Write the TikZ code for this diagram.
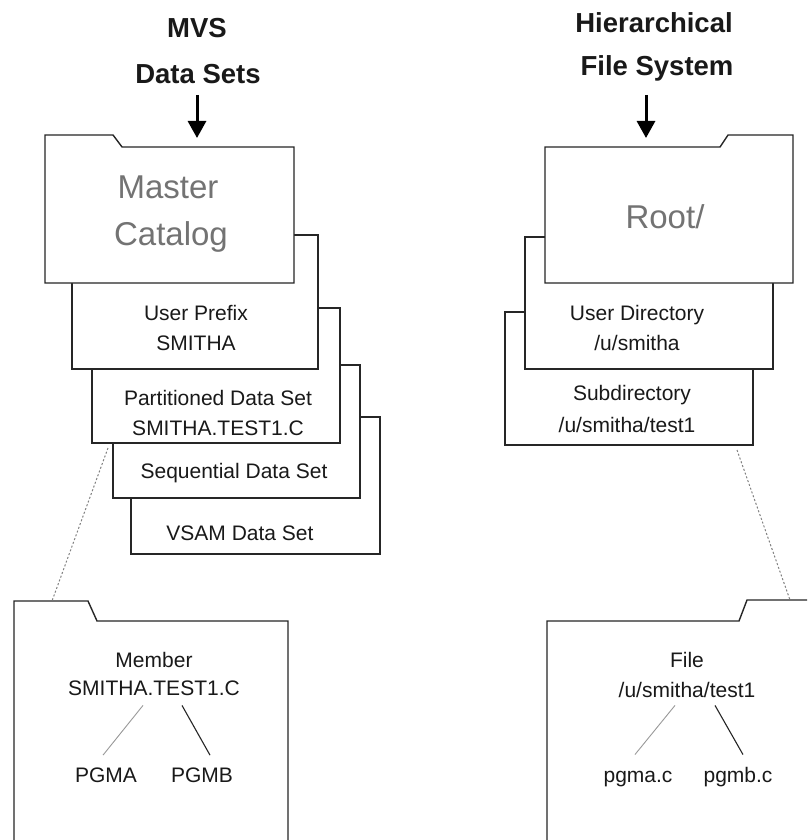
\documentclass[tikz,border=0pt]{standalone}
\usepackage{fontspec}
\setmainfont{Liberation Sans}
\usetikzlibrary{arrows.meta}
\begin{document}
\begin{tikzpicture}[x=1pt,y=-1pt,
  outl/.style={draw=black!85, line width=1.4pt, fill=white, line join=miter},
  boxst/.style={outl, rectangle, inner sep=0pt, outer sep=0pt},
  small/.style={font=\fontsize{21}{30}\selectfont, text=black!90, anchor=base, inner sep=0pt},
  head/.style={font=\fontsize{27.5}{44}\selectfont\bfseries, text=black!90, anchor=base, inner sep=0pt},
  bigt/.style={font=\fontsize{33}{47}\selectfont, text=black!55, anchor=base, inner sep=0pt},
  hdarrow/.style={draw=black, line width=3pt, -{Triangle[width=18pt,length=17pt]}},
  dotl/.style={draw=black!50, line width=1pt, dash pattern=on 2pt off 2pt},
  lightbr/.style={draw=black!40, line width=0.9pt},
  darkbr/.style={draw=black!85, line width=1.1pt}
]
\useasboundingbox (0,0) rectangle (807,840);
\clip (0,0) rectangle (807,840);
\fill[white] (0,0) rectangle (807,840);

% headers
\node[head] (hL1) at (197,38) {MVS};
\node[head] (hL2) at (198,84) {Data Sets};
\node[head] (hR1) at (654,33) {Hierarchical};
\node[head] (hR2) at (657,76) {File System};
\coordinate (aL1) at (197,95);
\coordinate (aL2) at (197,138);
\coordinate (aR1) at (646,95);
\coordinate (aR2) at (646,138);
\draw[hdarrow] (aL1) -- (aL2);
\draw[hdarrow] (aR1) -- (aR2);

% MVS stack (back to front)
\node[boxst, minimum width=249pt, minimum height=137pt] (vsam) at (255.5,485.5) {};
\node[boxst, minimum width=247pt, minimum height=133pt] (seq) at (236.5,431.5) {};
\node[boxst, minimum width=248pt, minimum height=135pt] (part) at (216,375.5) {};
\node[boxst, minimum width=246pt, minimum height=134pt] (upre) at (195,302) {};
\draw[outl] (45,283) -- (45,135) -- (113,135) -- (122,147) -- (294,147) -- (294,283) -- cycle;

\node[bigt] (mast1) at (168,198) {Master};
\node[bigt] (mast2) at (171,245) {Catalog};
\node[small] (up1) at (196,320) {User Prefix};
\node[small] (up2) at (196,350) {SMITHA};
\node[small] (pt1) at (218,405) {Partitioned Data Set};
\node[small] (pt2) at (218,435) {SMITHA.TEST1.C};
\node[small] (sq1) at (234,478) {Sequential Data Set};
\node[small] (vs1) at (240,540) {VSAM Data Set};

% HFS stack
\node[boxst, minimum width=248pt, minimum height=133pt] (subd) at (629,378.5) {};
\node[boxst, minimum width=248pt, minimum height=132pt] (udir) at (649,303) {};
\draw[outl] (545,283) -- (545,147) -- (720,147) -- (728,135) -- (793,135) -- (793,283) -- cycle;

\node[bigt] (root) at (665,228) {Root/};
\node[small] (ud1) at (637,320) {User Directory};
\node[small] (ud2) at (637,350) {/u/smitha};
\node[small] (sd1) at (632,400) {Subdirectory};
\node[small] (sd2) at (627,432) {/u/smitha/test1};

% bottom folders
\draw[outl] (14,860) -- (14,601) -- (88,601) -- (97,621) -- (288,621) -- (288,860);
\draw[outl] (547,860) -- (547,621) -- (739,621) -- (747,600) -- (830,600);
\coordinate (tabL) at (52,601);
\coordinate (tabR) at (790,600);

\node[small] (mem1) at (154,667) {Member};
\node[small] (mem2) at (154,695) {SMITHA.TEST1.C};
\node[small] (pgA) at (106,782) {PGMA};
\node[small] (pgB) at (202,782) {PGMB};

\node[small] (fil1) at (687,667) {File};
\node[small] (fil2) at (687,697) {/u/smitha/test1};
\node[small] (pga) at (638,782) {pgma.c};
\node[small] (pgb) at (738,782) {pgmb.c};

% branch lines
\draw[lightbr] ([xshift=-11pt,yshift=-10pt]mem2.south) -- ([xshift=-3pt,yshift=12pt]pgA.north);
\draw[darkbr] ([xshift=28pt,yshift=-10pt]mem2.south) -- ([xshift=8pt,yshift=12pt]pgB.north);
\draw[lightbr] ([xshift=-12pt,yshift=-8pt]fil2.south) -- ([xshift=-3pt,yshift=16pt]pga.north);
\draw[darkbr] ([xshift=28pt,yshift=-8pt]fil2.south) -- ([xshift=5pt,yshift=12pt]pgb.north);

% zoom connectors
\draw[dotl] ([xshift=16pt,yshift=-5pt]part.south west) -- (tabL);
\draw[dotl] ([xshift=-16pt,yshift=-5pt]subd.south east) -- (tabR);
\end{tikzpicture}
\end{document}
